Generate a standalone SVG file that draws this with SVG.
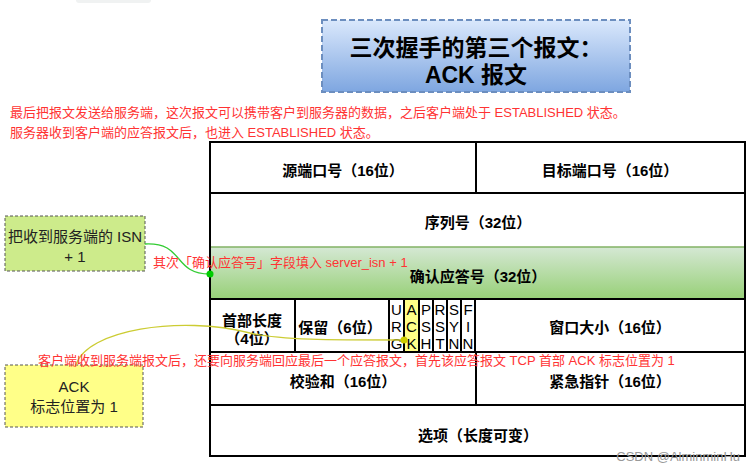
<svg xmlns="http://www.w3.org/2000/svg" width="754" height="472" viewBox="0 0 754 472">
<defs>
<linearGradient id="gBlue" x1="0" y1="0" x2="0" y2="1"><stop offset="0" stop-color="#dae8fc"/><stop offset="1" stop-color="#7ea6e0"/></linearGradient>
<linearGradient id="gGreen" x1="0" y1="0" x2="0" y2="1"><stop offset="0" stop-color="#d5e8d4"/><stop offset="1" stop-color="#97d077"/></linearGradient>
<style>
.t{font-family:"Liberation Sans","Noto Sans CJK SC",sans-serif;font-size:15px;font-weight:bold;fill:#000;text-anchor:middle}
.f{font-family:"Liberation Sans","Noto Sans CJK SC",sans-serif;font-size:15px;fill:#000;text-anchor:middle}
.r{font-family:"Liberation Sans","Noto Sans CJK SC",sans-serif;font-size:13px;fill:#f33}
.n{font-family:"Liberation Sans","Noto Sans CJK SC",sans-serif;font-size:15px;fill:#222;text-anchor:middle}
.b{fill:none;stroke:#000;stroke-width:2}
</style>
</defs>
<rect width="754" height="472" fill="#fff"/>
<rect x="76" y="-4" width="75" height="7" rx="3" fill="#f0f2f2"/>

<g id="title">
<rect x="322" y="20" width="308" height="72" fill="url(#gBlue)" stroke="#6c8ebf" stroke-width="2" stroke-dasharray="6 3"/>
<text x="476" y="56" class="t" style="font-size:23px">三次握手的第三个报文：</text>
<text x="476" y="83" class="t" style="font-size:23px">ACK 报文</text>
</g>

<g id="desc">
<text x="10" y="117" class="r">最后把报文发送给服务端，这次报文可以携带客户到服务器的数据，之后客户端处于 ESTABLISHED 状态。</text>
<text x="10" y="137" class="r">服务器收到客户端的应答报文后，也进入 ESTABLISHED 状态。</text>
</g>

<g id="tcp-header">
<rect x="210" y="247" width="535" height="52" fill="url(#gGreen)" stroke="#82b366" stroke-width="1.5"/>
<rect x="404" y="299" width="15" height="53" fill="#ffff88"/>
<rect x="210" y="142" width="535" height="314" class="b"/>
<line x1="210" y1="193" x2="745" y2="193" class="b"/>
<line x1="210" y1="352" x2="745" y2="352" class="b"/>
<line x1="210" y1="405" x2="745" y2="405" class="b"/>
<line x1="210" y1="299" x2="745" y2="299" class="b"/>
<line x1="476" y1="142" x2="476" y2="193" class="b"/>
<line x1="295" y1="299" x2="295" y2="352" class="b"/>
<line x1="389" y1="299" x2="389" y2="352" class="b"/>
<line x1="404" y1="299" x2="404" y2="352" class="b"/>
<line x1="419" y1="299" x2="419" y2="352" class="b"/>
<line x1="433" y1="299" x2="433" y2="352" class="b"/>
<line x1="447" y1="299" x2="447" y2="352" class="b"/>
<line x1="461" y1="299" x2="461" y2="352" class="b"/>
<line x1="475" y1="299" x2="475" y2="352" class="b"/>
<line x1="476" y1="352" x2="476" y2="405" class="b"/>

<text x="343" y="176" class="t">源端口号（16位）</text>
<text x="610" y="176" class="t">目标端口号（16位）</text>
<text x="478" y="228" class="t">序列号（32位）</text>
<text x="478" y="282" class="t">确认应答号（32位）</text>
<text x="252" y="326" class="t">首部长度</text>
<text x="252" y="344" class="t">（4位）</text>
<text x="340" y="333" class="t">保留（6位）</text>
<text x="610" y="333" class="t">窗口大小（16位）</text>
<text x="343" y="387" class="t">校验和（16位）</text>
<text x="610" y="387" class="t">紧急指针（16位）</text>
<text x="478" y="441" class="t">选项（长度可变）</text>

<text x="396.5" y="315" class="f">U</text><text x="396.5" y="332" class="f">R</text><text x="396.5" y="349" class="f">G</text>
<text x="411.5" y="315" class="f">A</text><text x="411.5" y="332" class="f">C</text><text x="411.5" y="349" class="f">K</text>
<text x="426" y="315" class="f">P</text><text x="426" y="332" class="f">S</text><text x="426" y="349" class="f">H</text>
<text x="440" y="315" class="f">R</text><text x="440" y="332" class="f">S</text><text x="440" y="349" class="f">T</text>
<text x="454" y="315" class="f">S</text><text x="454" y="332" class="f">Y</text><text x="454" y="349" class="f">N</text>
<text x="468" y="315" class="f">F</text><text x="468" y="332" class="f">I</text><text x="468" y="349" class="f">N</text>
</g>

<g id="node-isn">
<rect x="5" y="216" width="140" height="55" fill="#cdeb8b" stroke="#555" stroke-width="1" stroke-dasharray="3 2"/>
<text x="75" y="242" class="n">把收到服务端的 ISN</text>
<text x="75" y="262" class="n">+ 1</text>
</g>

<g id="node-ack">
<rect x="5" y="365" width="138" height="62" fill="#ffff88" stroke="#555" stroke-width="1" stroke-dasharray="3 2"/>
<text x="74" y="392" class="n">ACK</text>
<text x="74" y="412" class="n">标志位置为 1</text>
</g>

<g id="connectors">
<path d="M145,244 C185,242 172,274 210,274" fill="none" stroke="#33cc33" stroke-width="1.3"/>
<circle cx="210" cy="274" r="3.5" fill="#00cc00"/>
<path d="M76,365 C86,330 180,315 250,333 C280,340 330,340 404,340" fill="none" stroke="#cccc33" stroke-width="1.3"/>
<circle cx="404" cy="340" r="3.5" fill="#cccc00"/>
</g>

<g id="labels">
<text x="153" y="267" class="r">其次「确认应答号」字段填入 server_isn + 1</text>
<text x="38" y="365" class="r">客户端收到服务端报文后，还要向服务端回应最后一个应答报文，首先该应答报文 TCP 首部 ACK 标志位置为 1</text>
</g>

<text x="740" y="461" style="font-family:'Liberation Sans',sans-serif;font-size:13px;fill:#999;text-anchor:end">CSDN @AlminminHu</text>
</svg>
